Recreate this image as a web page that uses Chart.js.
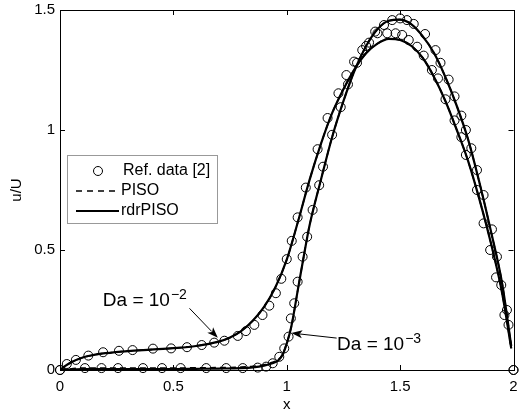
<!DOCTYPE html>
<html>
<head>
<meta charset="utf-8">
<script src="https://cdn.jsdelivr.net/npm/chart.js@4"></script>
<style>
  html, body { margin: 0; padding: 0; background: #fff; }
  canvas { display: block; }
</style>
</head>
<body>
<canvas id="chart" width="519" height="414"></canvas>
<script>
const FONT = "'Liberation Sans', Arial, Helvetica, sans-serif";

// Da = 1e-2 (earlier rise, lower peak)
const xDa2 = [0, 0.02, 0.05, 0.1, 0.15, 0.2, 0.3, 0.4, 0.5, 0.6, 0.7, 0.75, 0.8, 0.85, 0.9, 0.95, 1.0, 1.05, 1.1, 1.15, 1.2, 1.25, 1.3, 1.35, 1.4, 1.45, 1.5, 1.55, 1.6, 1.65, 1.7, 1.75, 1.8, 1.85, 1.9, 1.95, 1.99];
const yDa2Rdr = [0, 0.015, 0.032, 0.052, 0.063, 0.07, 0.079, 0.085, 0.091, 0.1, 0.118, 0.135, 0.163, 0.205, 0.263, 0.345, 0.46, 0.62, 0.79, 0.94, 1.07, 1.17, 1.255, 1.32, 1.36, 1.38, 1.375, 1.35, 1.3, 1.22, 1.12, 1.0, 0.87, 0.71, 0.53, 0.32, 0.09];
const yDa2Piso = [0, 0.015, 0.032, 0.052, 0.063, 0.07, 0.079, 0.085, 0.091, 0.1, 0.118, 0.135, 0.163, 0.205, 0.263, 0.345, 0.46, 0.62, 0.79, 0.94, 1.07, 1.17, 1.255, 1.32, 1.36, 1.38, 1.375, 1.35, 1.3, 1.22, 1.12, 1.0, 0.87, 0.71, 0.53, 0.32, 0.09];

// Da = 1e-3 (late, steep rise, higher peak)
const xDa3 = [0, 0.1, 0.2, 0.3, 0.4, 0.5, 0.6, 0.7, 0.8, 0.85, 0.9, 0.93, 0.96, 0.98, 1.0, 1.02, 1.05, 1.08, 1.1, 1.15, 1.2, 1.25, 1.3, 1.35, 1.4, 1.45, 1.5, 1.55, 1.6, 1.65, 1.7, 1.75, 1.8, 1.85, 1.9, 1.95, 1.99];
const yDa3Rdr = [0, 0.004, 0.004, 0.004, 0.004, 0.004, 0.005, 0.006, 0.008, 0.011, 0.018, 0.026, 0.038, 0.06, 0.11, 0.18, 0.34, 0.5, 0.6, 0.79, 0.97, 1.12, 1.25, 1.35, 1.42, 1.455, 1.46, 1.44, 1.39, 1.32, 1.22, 1.1, 0.96, 0.78, 0.58, 0.36, 0.1];
const yDa3Piso = [0, 0.008, 0.008, 0.008, 0.008, 0.008, 0.009, 0.01, 0.012, 0.015, 0.022, 0.03, 0.042, 0.063, 0.112, 0.18, 0.34, 0.5, 0.6, 0.79, 0.97, 1.12, 1.25, 1.35, 1.42, 1.455, 1.46, 1.44, 1.39, 1.32, 1.22, 1.1, 0.96, 0.78, 0.58, 0.36, 0.1];

// Reference data [2]
const xRefDa2 = [0, 0.03, 0.07, 0.125, 0.19, 0.26, 0.32, 0.41, 0.49, 0.56, 0.625, 0.68, 0.725, 0.784, 0.82, 0.857, 0.893, 0.923, 0.952, 0.976, 1.0, 1.022, 1.048, 1.084, 1.136, 1.18, 1.228, 1.263, 1.297, 1.333, 1.363, 1.4, 1.443, 1.48, 1.509, 1.538, 1.575, 1.604, 1.64, 1.667, 1.7, 1.74, 1.77, 1.79, 1.839, 1.868, 1.897, 1.923, 1.96, 2.0];
const yRefDa2 = [0, 0.025, 0.042, 0.06, 0.074, 0.08, 0.083, 0.089, 0.09, 0.095, 0.104, 0.114, 0.122, 0.142, 0.162, 0.188, 0.229, 0.268, 0.32, 0.38, 0.462, 0.538, 0.636, 0.76, 0.92, 1.05, 1.153, 1.229, 1.285, 1.333, 1.364, 1.403, 1.403, 1.403, 1.396, 1.375, 1.347, 1.31, 1.25, 1.215, 1.128, 1.04, 0.97, 0.896, 0.75, 0.611, 0.5, 0.386, 0.229, 0];
const xRefDa3 = [0, 0.11, 0.183, 0.256, 0.366, 0.45, 0.532, 0.645, 0.733, 0.806, 0.872, 0.909, 0.938, 0.967, 0.989, 1.008, 1.018, 1.033, 1.048, 1.07, 1.09, 1.114, 1.143, 1.16, 1.2, 1.238, 1.27, 1.31, 1.35, 1.39, 1.429, 1.465, 1.5, 1.53, 1.56, 1.61, 1.656, 1.678, 1.714, 1.74, 1.77, 1.79, 1.814, 1.839, 1.868, 1.905, 1.927, 1.946, 1.971, 1.978, 2.0];
const yRefDa3 = [0, 0.008, 0.008, 0.008, 0.008, 0.008, 0.008, 0.008, 0.008, 0.008, 0.01, 0.014, 0.028, 0.055, 0.09, 0.139, 0.215, 0.278, 0.368, 0.472, 0.555, 0.667, 0.77, 0.847, 0.98, 1.095, 1.19, 1.28, 1.35, 1.41, 1.4375, 1.458, 1.465, 1.458, 1.442, 1.4, 1.333, 1.28, 1.21, 1.14, 1.06, 1.0, 0.924, 0.833, 0.729, 0.586, 0.472, 0.354, 0.25, 0.188, 0];

const xTicks = [0, 0.5, 1, 1.5, 2];
const yTicks = [0, 0.5, 1, 1.5];

const pts = (xs, ys) => xs.map((x, i) => ({ x, y: ys[i] }));

const lineSet = (data, dashed) => ({
  data,
  borderColor: "#000",
  borderWidth: dashed ? 1.6 : 2.2,
  borderDash: dashed ? [6, 4] : [],
  pointRadius: 0,
  fill: false,
  cubicInterpolationMode: "monotone",
});

const refSet = (data) => ({
  data,
  showLine: false,
  pointStyle: "circle",
  pointRadius: 4.5,
  pointBorderWidth: 1,
  pointBorderColor: "#000",
  pointBackgroundColor: "rgba(0,0,0,0)",
  clip: false,
});

// box, inward ticks on all four sides
const framePlugin = {
  id: "frame",
  afterDatasetsDraw(chart) {
    const { ctx, chartArea: a, scales } = chart;
    ctx.save();
    ctx.strokeStyle = "#000";
    ctx.lineWidth = 1;
    ctx.beginPath();
    for (const v of xTicks) {
      const px = Math.round(scales.x.getPixelForValue(v)) + 0.5;
      ctx.moveTo(px, a.bottom); ctx.lineTo(px, a.bottom - 5);
      ctx.moveTo(px, a.top); ctx.lineTo(px, a.top + 5);
    }
    for (const v of yTicks) {
      const py = Math.round(scales.y.getPixelForValue(v)) + 0.5;
      ctx.moveTo(a.left, py); ctx.lineTo(a.left + 5, py);
      ctx.moveTo(a.right, py); ctx.lineTo(a.right - 5, py);
    }
    ctx.stroke();
    ctx.strokeRect(Math.round(a.left) + 0.5, Math.round(a.top) + 0.5, Math.round(a.right - a.left), Math.round(a.bottom - a.top));
    ctx.restore();
  },
};

function arrow(ctx, x0, y0, x1, y1) {
  const ang = Math.atan2(y1 - y0, x1 - x0);
  const L = 11, W = 4;
  ctx.beginPath();
  ctx.moveTo(x0, y0);
  ctx.lineTo(x1 - L * 0.8 * Math.cos(ang), y1 - L * 0.8 * Math.sin(ang));
  ctx.stroke();
  ctx.beginPath();
  ctx.moveTo(x1, y1);
  ctx.lineTo(x1 - L * Math.cos(ang) + W * Math.sin(ang), y1 - L * Math.sin(ang) - W * Math.cos(ang));
  ctx.lineTo(x1 - L * 0.75 * Math.cos(ang), y1 - L * 0.75 * Math.sin(ang));
  ctx.lineTo(x1 - L * Math.cos(ang) - W * Math.sin(ang), y1 - L * Math.sin(ang) + W * Math.cos(ang));
  ctx.closePath();
  ctx.fill();
}

function daLabel(ctx, px, py, exp) {
  ctx.font = "19px " + FONT;
  ctx.textBaseline = "alphabetic";
  ctx.textAlign = "left";
  const base = "Da = 10";
  ctx.fillText(base, px, py);
  const w = ctx.measureText(base).width;
  ctx.font = "14px " + FONT;
  ctx.fillText(exp, px + w + 1, py - 7);
}

const notesPlugin = {
  id: "notes",
  afterDraw(chart) {
    const { ctx, scales: { x, y } } = chart;
    ctx.save();
    ctx.fillStyle = "#000";
    ctx.strokeStyle = "#000";
    ctx.lineWidth = 1;
    daLabel(ctx, x.getPixelForValue(0.189), y.getPixelForValue(0.267), "\u22122");
    arrow(ctx, x.getPixelForValue(0.571), y.getPixelForValue(0.257), x.getPixelForValue(0.696), y.getPixelForValue(0.134));
    daLabel(ctx, x.getPixelForValue(1.222), y.getPixelForValue(0.083), "\u22123");
    arrow(ctx, x.getPixelForValue(1.22), y.getPixelForValue(0.133), x.getPixelForValue(1.02), y.getPixelForValue(0.154));
    ctx.restore();
  },
};

const legendPlugin = {
  id: "boxLegend",
  afterDraw(chart) {
    const { ctx } = chart;
    ctx.save();
    ctx.fillStyle = "#fff";
    ctx.fillRect(67, 155, 150, 68);
    ctx.strokeStyle = "#999";
    ctx.lineWidth = 1;
    ctx.strokeRect(67.5, 155.5, 150, 68);
    ctx.strokeStyle = "#000";
    ctx.fillStyle = "#000";
    ctx.beginPath();
    ctx.arc(98, 171, 4.5, 0, Math.PI * 2);
    ctx.stroke();
    ctx.setLineDash([6, 5]);
    ctx.lineWidth = 1.6;
    ctx.beginPath();
    ctx.moveTo(76, 191); ctx.lineTo(119, 191);
    ctx.stroke();
    ctx.setLineDash([]);
    ctx.lineWidth = 2.2;
    ctx.beginPath();
    ctx.moveTo(76, 211); ctx.lineTo(119, 211);
    ctx.stroke();
    ctx.font = "16px " + FONT;
    ctx.textBaseline = "middle";
    ctx.fillText("Ref. data [2]", 123, 171);
    ctx.fillText("PISO", 121, 191);
    ctx.fillText("rdrPISO", 121, 211);
    ctx.restore();
  },
};

const tickFont = { family: FONT, size: 15 };
const fmt = (v) => String(v);

new Chart(document.getElementById("chart"), {
  type: "line",
  data: {
    datasets: [
      lineSet(pts(xDa2, yDa2Piso), true),
      lineSet(pts(xDa3, yDa3Piso), true),
      lineSet(pts(xDa2, yDa2Rdr), false),
      lineSet(pts(xDa3, yDa3Rdr), false),
      refSet(pts(xRefDa2, yRefDa2)),
      refSet(pts(xRefDa3, yRefDa3)),
    ],
  },
  options: {
    responsive: false,
    animation: false,
    events: [],
    layout: { padding: { top: 10, right: 4, left: 0, bottom: 0 } },
    scales: {
      x: {
        type: "linear", min: 0, max: 2,
        afterBuildTicks: (s) => { s.ticks = xTicks.map((v) => ({ value: v })); },
        ticks: { color: "#000", font: tickFont, padding: 8, maxRotation: 0, callback: fmt },
        grid: { display: false, drawTicks: false },
        border: { display: false },
        title: { display: true, text: "x", color: "#000", font: tickFont, padding: { top: 0, bottom: 0 } },
        afterFit: (s) => { s.height = 44; s.paddingLeft = 0; s.paddingRight = 0; },
      },
      y: {
        type: "linear", min: 0, max: 1.5,
        afterBuildTicks: (s) => { s.ticks = yTicks.map((v) => ({ value: v })); },
        ticks: { color: "#000", font: tickFont, padding: 5, callback: fmt },
        grid: { display: false, drawTicks: false },
        border: { display: false },
        title: { display: true, text: "u/U", color: "#000", font: tickFont, padding: { top: 8, bottom: 0 } },
        afterFit: (s) => { s.width = 60; s.paddingTop = 0; s.paddingBottom = 0; },
      },
    },
    plugins: { legend: { display: false }, tooltip: { enabled: false } },
  },
  plugins: [framePlugin, notesPlugin, legendPlugin],
});
</script>
</body>
</html>
